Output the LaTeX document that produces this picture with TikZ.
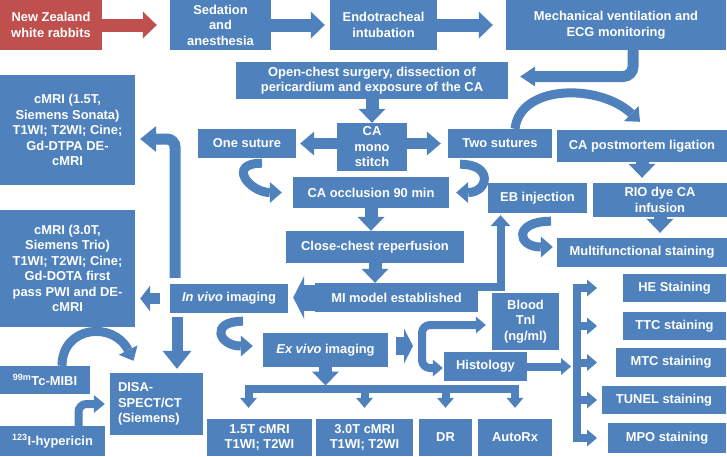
\documentclass[tikz,border=0pt]{standalone}
\usepackage{fontspec}
\setmainfont{Liberation Sans}
\usetikzlibrary{arrows.meta}
\definecolor{boxblue}{RGB}{79,129,189}
\definecolor{rabbitred}{RGB}{192,80,77}
\tikzset{
  box/.style 2 args={rectangle, fill=boxblue, text=white, inner sep=0pt, align=center,
    minimum width=#1, minimum height=#2, font=\bfseries\fontsize{12.9}{15.5}\selectfont},
  blk/.style={draw=boxblue, line width=13pt, -{Triangle[width=27pt,length=14pt,line width=0pt]}},
  mid/.style={draw=boxblue, line width=11pt, -{Triangle[width=24pt,length=14pt,line width=0pt]}},
  sm/.style={draw=boxblue, line width=8pt, -{Triangle[width=17pt,length=10pt,line width=0pt]}},
  curv/.style={draw=boxblue, line width=9pt, -{Triangle[width=21pt,length=12pt,line width=0pt]}},
  chunk/.style={draw=boxblue, line width=26pt, -{Triangle[width=43pt,length=11pt,line width=0pt]}},
  bus/.style={draw=boxblue, line width=8pt, line cap=rect}
}
\begin{document}
\begin{tikzpicture}[x=1pt,y=1pt]

\path[use as bounding box, fill=white] (0,0) rectangle (727,-456);

\node[box={102pt}{50pt}, fill=rabbitred] (rabbit) at (51,-25) {New Zealand\\white rabbits};
\node[box={101pt}{50pt}] (sedation) at (220.5,-25) {Sedation\\and\\anesthesia};
\node[box={107pt}{50pt}] (intubation) at (383.5,-25) {Endotracheal\\intubation};
\node[box={220pt}{50pt}] (ventilation) at (616,-25) {Mechanical ventilation and\\ECG monitoring};
\node[box={272pt}{37pt}] (openchest) at (372,-80.5) {Open-chest surgery, dissection of\\pericardium and exposure of the CA};
\node[box={135pt}{110pt}] (cmrione) at (67.5,-130) {cMRI (1.5T,\\Siemens Sonata)\\T1WI; T2WI; Cine;\\Gd-DTPA DE-\\cMRI};
\node[box={135pt}{117pt}] (cmrithree) at (67.5,-268.5) {cMRI (3.0T,\\Siemens Trio)\\T1WI; T2WI; Cine;\\Gd-DOTA first\\pass PWI and DE-\\cMRI};
\node[box={98pt}{29pt}] (onesut) at (247,-143.5) {One suture};
\node[box={70pt}{48pt}] (mono) at (372,-147) {CA\\mono\\stitch};
\node[box={104pt}{29pt}] (twosut) at (500,-143.5) {Two sutures};
\node[box={170pt}{32pt}] (postmortem) at (642,-146) {CA postmortem ligation};
\node[box={156pt}{31pt}] (occlusion) at (371,-192.5) {CA occlusion 90 min};
\node[box={99pt}{30pt}] (ebinj) at (537.5,-198) {EB injection};
\node[box={134pt}{34pt}] (riodye) at (660,-200) {RIO dye CA\\infusion};
\node[box={170pt}{29pt}] (multistain) at (642,-252.5) {Multifunctional staining};
\node[box={178pt}{32pt}] (closechest) at (375,-247) {Close-chest reperfusion};
\node[box={163pt}{29pt}] (mimodel) at (396.5,-297.5) {MI model established};
\node[box={118pt}{29pt}] (invivo) at (229,-298.5) {\textit{In vivo} imaging};
\node[box={125pt}{34pt}] (exvivo) at (325.5,-350) {\textit{Ex vivo} imaging};
\node[box={93pt}{62pt}, align=left, text width=77pt] (disa) at (156.5,-404) {DISA-\\SPECT/CT\\(Siemens)};
\node[box={90pt}{28pt}] (mibi) at (45,-380) {\textsuperscript{99m}Tc-MIBI};
\node[box={105pt}{30pt}] (hypericin) at (52.5,-441) {\textsuperscript{123}I-hypericin};
\node[box={105pt}{37pt}] (cmrionex) at (259.5,-437.5) {1.5T cMRI\\T1WI; T2WI};
\node[box={97pt}{37pt}] (cmrithreex) at (364.5,-437.5) {3.0T cMRI\\T1WI; T2WI};
\node[box={53pt}{37pt}] (dr) at (445.5,-437.5) {DR};
\node[box={74pt}{37pt}] (autorx) at (515,-437.5) {AutoRx};
\node[box={67pt}{57pt}] (blood) at (525.5,-321.5) {Blood\\TnI\\(ng/ml)};
\node[box={83pt}{29pt}] (histology) at (485.5,-366.5) {Histology};
\node[box={103pt}{28pt}] (he) at (674.5,-288) {HE Staining};
\node[box={103pt}{28pt}] (ttc) at (674.5,-326) {TTC staining};
\node[box={110pt}{29pt}] (mtc) at (671,-362.5) {MTC staining};
\node[box={124pt}{28pt}] (tunel) at (664,-400) {TUNEL staining};
\node[box={118pt}{30pt}] (mpo) at (667,-438) {MPO staining};

\coordinate (exbus) at (0,-388.5);
\coordinate (split) at (422,-346);
\coordinate (sbus) at (577,0);
\coordinate (stip) at (597,0);

\draw[blk, draw=rabbitred, shorten >=13pt] (rabbit) -- (sedation);
\draw[blk, shorten >=5pt] (sedation) -- (intubation);
\draw[blk, shorten >=13pt] (intubation) -- (ventilation);
\draw[mid, rounded corners=10pt, -{Triangle[width=20pt,length=15pt,line width=0pt]}] ([xshift=17pt]ventilation.south) |- ([shift={(12pt,4pt)}]openchest.east);
\draw[blk] (openchest) -- (mono);
\draw[mid, shorten >=4pt] (mono.west |- onesut) -- (onesut.east);
\draw[mid, shorten >=7pt] (mono.east |- twosut) -- (twosut.west);
\draw[curv] ([xshift=15pt]twosut.north) .. controls +(5,45) and +(-40,38) .. ([shift={(-2pt,8pt)}]postmortem.north);
\draw[curv] ([shift={(15pt,-5pt)}]onesut.south) .. controls +(-36,0) and +(-32,0) .. ([xshift=-11pt]occlusion.west);
\draw[curv] ([shift={(-40pt,-6pt)}]twosut.south) .. controls +(34,0) and +(32,0) .. ([xshift=7pt]occlusion.east);
\draw[blk] (occlusion.south) -- (occlusion.south |- closechest.north);
\draw[blk] (closechest.south) -- (closechest.south |- mimodel.north);
\draw[chunk, shorten >=5pt] (mimodel.west) -- (invivo.east |- mimodel.west);
\draw[mid, shorten <=10pt, shorten >=5pt, -{Triangle[width=26pt,length=10pt,line width=0pt]}] (invivo.west) -- (cmrithree.east |- invivo.west);
\draw[mid, rounded corners=8pt, shorten <=6pt, -{Triangle[width=26pt,length=16pt,line width=0pt]}] ([xshift=-54pt]invivo.north) |- ([shift={(5pt,-9pt)}]cmrione.east);
\draw[mid, shorten <=4pt, shorten >=4pt, -{Triangle[width=29pt,length=18pt,line width=0pt]}] ([xshift=-52pt]invivo.south) -- ([xshift=-52pt]invivo.south |- disa.north);
\draw[curv] ([shift={(14pt,-8pt)}]invivo.south) .. controls +(-34,0) and +(-34,0) .. ([shift={(-10pt,4pt)}]exvivo.west);
\draw[curv] ([xshift=17pt]mibi.north) .. controls +(0,40) and +(-20,40) .. ([shift={(-23pt,12pt)}]disa.north);
\draw[sm, rounded corners=8pt, -{Triangle[width=18pt,length=11pt,line width=0pt]}] ([xshift=26pt]hypericin.north) |- ([xshift=-5pt]disa.west);

\draw[blk, shorten >=3pt] (exvivo.south) -- (exvivo.south |- exbus);
\draw[bus] ([xshift=-11pt]cmrionex.north |- exbus) -- (autorx.north |- exbus);
\draw[sm] ([xshift=-11pt]cmrionex.north |- exbus) -- ([shift={(-11pt,11pt)}]cmrionex.north);
\foreach \b in {cmrithreex,dr,autorx}
  \draw[sm] (\b.north |- exbus) -- ([yshift=11pt]\b.north);

\draw[chunk, line width=18pt, shorten <=8pt, shorten >=9pt, -{Triangle[width=35pt,length=9pt,line width=0pt]}] ([yshift=4pt]exvivo.east) -- (split);
\draw[sm, rounded corners=8pt] (split) |- ([shift={(-6pt,-3.5pt)}]blood.west);
\draw[sm, rounded corners=8pt] (split) |- ([shift={(-1pt,-1.5pt)}]histology.west);
\draw[sm, -{Triangle[width=20pt,length=11pt,line width=0pt]}, shorten >=2pt] ([yshift=10.5pt]mimodel.east) -| ([xshift=-37pt]ebinj.south);
\draw[curv] ([shift={(13.5pt,-8pt)}]ebinj.south) .. controls +(-38,0) and +(-36,0) .. ([shift={(-4pt,5.5pt)}]multistain.west);
\draw[blk, shorten >=5pt] (postmortem.south) -- (postmortem.south |- riodye.north);
\draw[blk, shorten >=5pt] (riodye.south) -- (riodye.south |- multistain.north);

\draw[sm, shorten >=6pt] (histology.east) -- (sbus |- histology.east);
\draw[bus] (sbus |- he) -- (sbus |- mpo);
\foreach \s in {he,ttc,mtc,tunel,mpo}
  \draw[sm] (sbus |- \s) -- (stip |- \s);

\end{tikzpicture}
\end{document}
